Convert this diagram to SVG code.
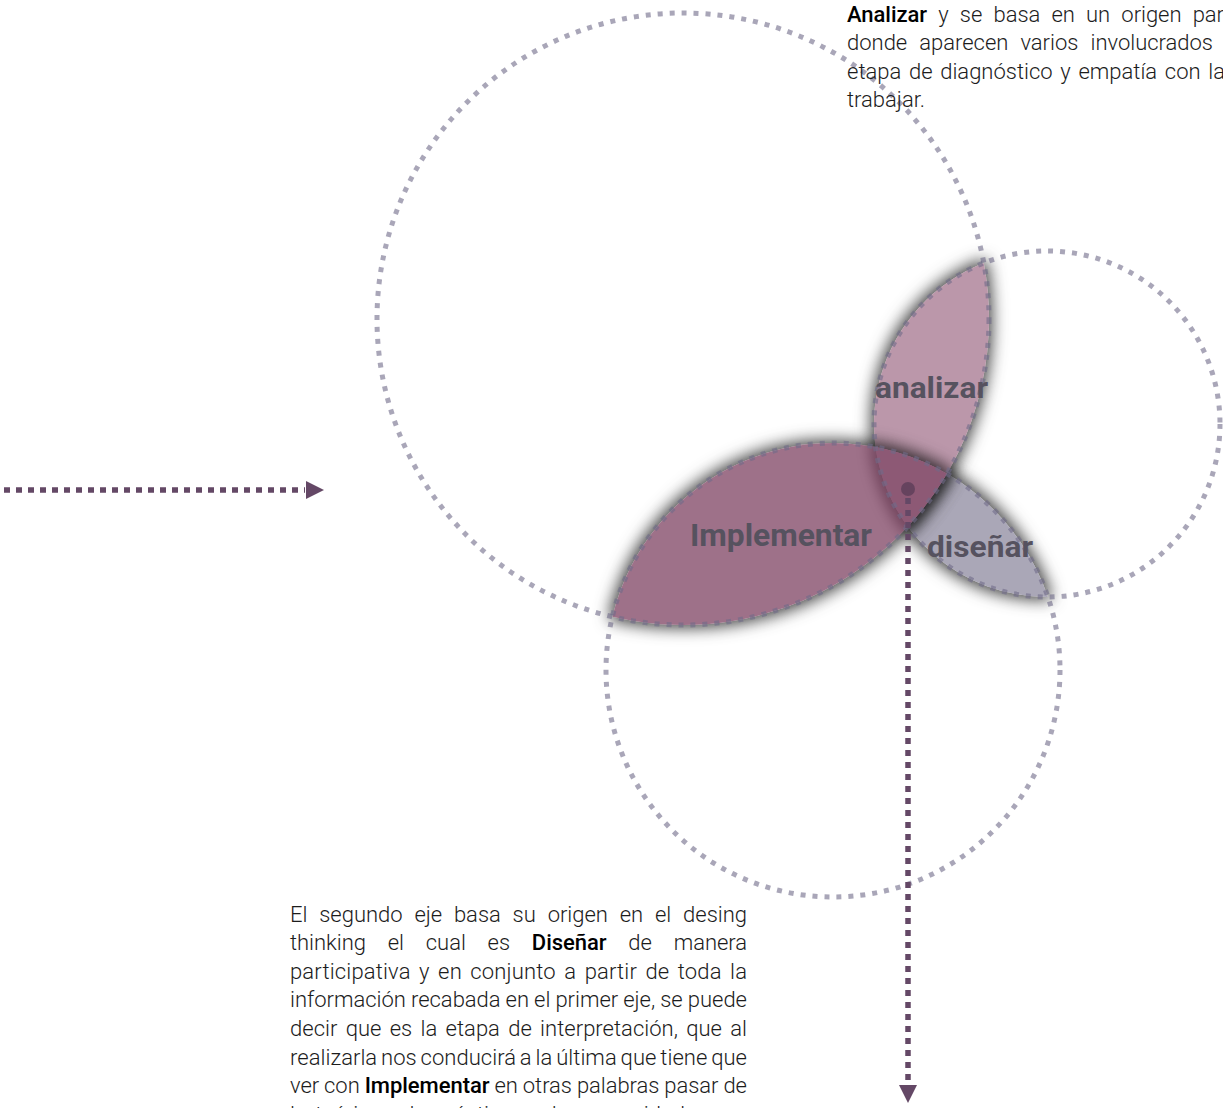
<svg xmlns="http://www.w3.org/2000/svg" xmlns:xlink="http://www.w3.org/1999/xlink" width="1223" height="1108" viewBox="0 0 1223 1108">
<style>
.ring{fill:none;stroke:#6f6b88;stroke-opacity:.6;stroke-width:5;stroke-dasharray:5 7}
.para{font-family:Roboto,"Liberation Sans",sans-serif;font-weight:300;font-size:22px;fill:#1c1c1c}
.em{font-weight:500;fill:#000}
.lbl{font-family:Roboto,"Liberation Sans",sans-serif;font-weight:700;fill:#56525f}
.conn{fill:none;stroke:#644866;stroke-width:5.5;stroke-dasharray:6 6}
.head{fill:#644866}
</style>
<defs>
<path id="lens-an" d="M983.83,262.93 A173,173 0 0 0 907.75,526.67 A306,306 0 0 0 983.83,262.93 Z"/>
<path id="lens-im" d="M612.34,616.73 A227,227 0 0 1 947,473.71 A306,306 0 0 1 612.34,616.73 Z"/>
<path id="lens-di" d="M875.53,447.02 A227,227 0 0 1 1047.95,597 A173,173 0 0 1 875.53,447.02 Z"/>
<filter id="sh" x="-30%" y="-30%" width="160%" height="160%" color-interpolation-filters="sRGB">
<feMorphology in="SourceAlpha" operator="dilate" radius="3" result="d"/>
<feGaussianBlur in="d" stdDeviation="8" result="b"/>
<feFlood flood-color="#1e1e1e" flood-opacity=".85"/>
<feComposite in2="b" operator="in"/>
</filter>
<mask id="m-an" maskUnits="userSpaceOnUse" x="0" y="0" width="1223" height="1108"><rect width="1223" height="1108" fill="#fff"/><use xlink:href="#lens-an" fill="#000"/></mask>
<mask id="m-im" maskUnits="userSpaceOnUse" x="0" y="0" width="1223" height="1108"><rect width="1223" height="1108" fill="#fff"/><use xlink:href="#lens-im" fill="#000"/></mask>
<mask id="m-di" maskUnits="userSpaceOnUse" x="0" y="0" width="1223" height="1108"><rect width="1223" height="1108" fill="#fff"/><use xlink:href="#lens-di" fill="#000"/></mask>
</defs>

<g id="node-disenar">
<g mask="url(#m-di)"><use xlink:href="#lens-di" filter="url(#sh)"/></g>
<use xlink:href="#lens-di" fill="#9591a5" fill-opacity=".8"/>
</g>
<g id="node-analizar">
<g mask="url(#m-an)"><use xlink:href="#lens-an" filter="url(#sh)"/></g>
<use xlink:href="#lens-an" fill="#aa7d95" fill-opacity=".8"/>
</g>
<g id="node-implementar">
<g mask="url(#m-im)"><use xlink:href="#lens-im" filter="url(#sh)"/></g>
<use xlink:href="#lens-im" fill="#864e6b" fill-opacity=".8"/>
</g>

<g id="circles">
<circle id="circle-big" class="ring" cx="683" cy="319" r="306"/>
<circle id="circle-right" class="ring" cx="1047" cy="424" r="173"/>
<circle id="circle-bottom" class="ring" cx="833" cy="670" r="227"/>
</g>

<g id="labels">
<text class="lbl" x="875" y="398" font-size="30" textLength="113" lengthAdjust="spacingAndGlyphs">analizar</text>
<text class="lbl" x="690" y="546" font-size="31" textLength="182" lengthAdjust="spacingAndGlyphs">Implementar</text>
<text class="lbl" x="927" y="557" font-size="30" textLength="106" lengthAdjust="spacingAndGlyphs">diseñar</text>
</g>

<g id="connectors">
<line class="conn" x1="4" y1="490" x2="305" y2="490"/>
<polygon class="head" points="306,481 324,490 306,499"/>
<circle cx="908" cy="489" r="7" fill="#5f3f5a" fill-opacity=".85"/>
<line class="conn" x1="908" y1="498" x2="908" y2="1085"/>
<polygon class="head" points="899,1085 917,1085 908,1103"/>
</g>

<g id="text-top">
<text class="para" x="847" y="21.5" word-spacing="5.9" textLength="377" lengthAdjust="spacing"><tspan class="em">Analizar</tspan> y se basa en un origen par</text>
<text class="para" x="847" y="50" word-spacing="6.7" textLength="366" lengthAdjust="spacing">donde aparecen varios involucrados</text>
<text class="para" x="847" y="78.5" word-spacing="2.3" textLength="378" lengthAdjust="spacing">etapa de diagnóstico y empatía con la</text>
<text class="para" x="847" y="107">trabajar.</text>
</g>

<g id="text-bottom">
<text class="para" x="290" y="921.5" word-spacing="6.5" textLength="457" lengthAdjust="spacing">El segundo eje basa su origen en el desing</text>
<text class="para" x="290" y="950.1" word-spacing="16.5" textLength="457" lengthAdjust="spacing">thinking el cual es <tspan class="em">Diseñar</tspan> de manera</text>
<text class="para" x="290" y="978.7" word-spacing="2.9" textLength="457" lengthAdjust="spacing">participativa y en conjunto a partir de toda la</text>
<text class="para" x="290" y="1007.3" word-spacing="-0.3" textLength="457" lengthAdjust="spacing">información recabada en el primer eje, se puede</text>
<text class="para" x="290" y="1035.9" word-spacing="2.9" textLength="457" lengthAdjust="spacing">decir que es la etapa de interpretación, que al</text>
<text class="para" x="290" y="1064.5" word-spacing="-1.5" textLength="457" lengthAdjust="spacing">realizarla nos conducirá a la última que tiene que</text>
<text class="para" x="290" y="1093.1" word-spacing="-0.4" textLength="457" lengthAdjust="spacing">ver con <tspan class="em">Implementar</tspan> en otras palabras pasar de</text>
<text class="para" x="290" y="1121.7" word-spacing="2.5">lo teórico a lo práctico en la comunidad</text>
</g>
</svg>
